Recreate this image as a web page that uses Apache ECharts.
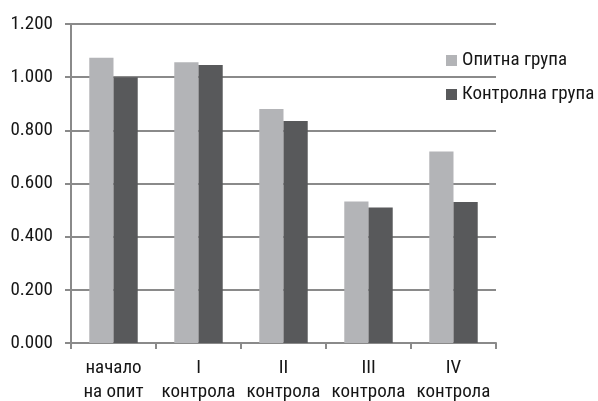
<!DOCTYPE html>
<html>
<head>
<meta charset="utf-8">
<script src="https://cdn.jsdelivr.net/npm/echarts@6/dist/echarts.min.js"></script>
<style>
  html, body { margin: 0; padding: 0; background: #fff; }
  #chart { width: 598px; height: 401px; }
</style>
</head>
<body>
<div id="chart"></div>
<script>
// Category labels (two lines each) and group values
const categories = ['начало\nна опит', 'I\nконтрола', 'II\nконтрола', 'III\nконтрола', 'IV\nконтрола'];
const seriesNames = ['Опитна група', 'Контролна група'];
const experimental = [1.073, 1.056, 0.880, 0.532, 0.720];
const control = [1.000, 1.046, 0.835, 0.510, 0.530];
const yTicks = { min: 0, max: 1.2, interval: 0.2 };

const FONT = '"Roboto Condensed", "Liberation Sans", Arial, sans-serif';
const TEXT = '#161616';
const AXIS = '#8a8a8a';

const chart = echarts.init(document.getElementById('chart'), null, { renderer: 'canvas' });
chart.setOption({
  animation: false,
  textStyle: { fontFamily: FONT },
  grid: {
    left: 71, right: 102, top: 24, bottom: 58,
    containLabel: false, outerBoundsMode: 'none'
  },
  legend: {
    orient: 'vertical',
    left: 441,
    top: 46,
    itemWidth: 11,
    itemHeight: 11,
    itemGap: 15,
    icon: 'rect',
    textStyle: { fontFamily: FONT, fontSize: 19, color: TEXT },
    data: seriesNames
  },
  xAxis: {
    type: 'category',
    data: categories,
    axisLine: { lineStyle: { color: AXIS, width: 2 } },
    axisTick: { show: true, length: 6, lineStyle: { color: AXIS, width: 2 } },
    axisLabel: {
      fontFamily: FONT, fontSize: 19, color: TEXT, margin: 13,
      lineHeight: 24, interval: 0
    }
  },
  yAxis: {
    type: 'value',
    min: yTicks.min,
    max: yTicks.max,
    interval: yTicks.interval,
    axisLine: { show: true, lineStyle: { color: AXIS, width: 2 } },
    axisTick: { show: true, length: 6, lineStyle: { color: AXIS, width: 2 } },
    splitLine: { lineStyle: { color: AXIS, width: 2 } },
    axisLabel: {
      fontFamily: FONT, fontSize: 19, color: TEXT, margin: 18,
      formatter: v => v.toFixed(3)
    }
  },
  series: [
    {
      name: seriesNames[0],
      type: 'bar',
      data: experimental,
      barGap: '0%',
      barCategoryGap: '43%',
      itemStyle: { color: '#b3b4b7' }
    },
    {
      name: seriesNames[1],
      type: 'bar',
      data: control,
      itemStyle: { color: '#58595b' }
    }
  ]
});
</script>
</body>
</html>
